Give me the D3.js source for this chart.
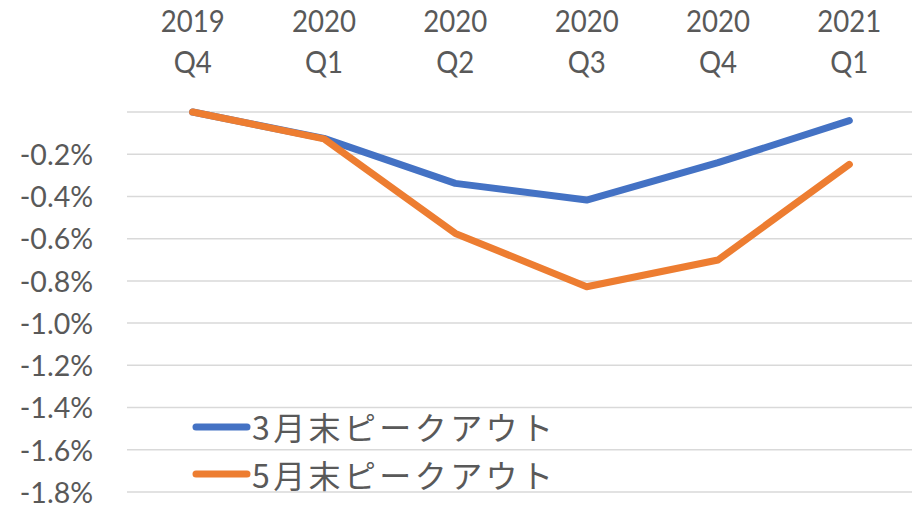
<!DOCTYPE html>
<html>
<head>
<meta charset="utf-8">
<script src="https://cdn.jsdelivr.net/npm/d3@7"></script>
<style>
  html, body { margin: 0; padding: 0; background: #fff; }
  svg { display: block; }
  text { fill: #595959; }
</style>
</head>
<body>
<svg id="chart" width="912" height="508"></svg>
<script>
const categoriesTop = ["2019", "2020", "2020", "2020", "2020", "2021"];
const categoriesBottom = ["Q4", "Q1", "Q2", "Q3", "Q4", "Q1"];
const categories = ["2019 Q4", "2020 Q1", "2020 Q2", "2020 Q3", "2020 Q4", "2021 Q1"];
const seriesNames = ["3月末ピークアウト", "5月末ピークアウト"];
const seriesMarch = [0, -0.125, -0.338, -0.417, -0.240, -0.041];
const seriesMay = [0, -0.127, -0.575, -0.828, -0.701, -0.248];
const yTicks = [0, -0.2, -0.4, -0.6, -0.8, -1.0, -1.2, -1.4, -1.6, -1.8];
const colors = ["#4472C4", "#ED7D31"];

const svg = d3.select("#chart");
const numFont = "Lato, 'Open Sans', sans-serif";
const jpFont = "'Noto Sans CJK JP', sans-serif";

const x = d3.scaleBand().domain(categories).range([127, 915]);
const y = d3.scaleLinear().domain([-1.8, 0]).range([492, 112]);
const cx = c => x(c) + x.bandwidth() / 2;

// gridlines
svg.append("g").selectAll("line").data(yTicks).join("line")
  .attr("x1", 127).attr("x2", 912)
  .attr("y1", d => y(d)).attr("y2", d => y(d))
  .attr("stroke", "#D9D9D9").attr("stroke-width", 1.5);

// y axis labels
const fmt = d => (d < 0 ? "-" : "") + Math.abs(d).toFixed(1) + "%";
const yAxis = d3.axisLeft(y).tickValues(yTicks.filter(d => d !== 0))
  .tickFormat(fmt).tickSize(0).tickPadding(0);
const yg = svg.append("g").attr("transform", "translate(93,0)").call(yAxis);
yg.select(".domain").remove();
yg.selectAll("text").attr("font-family", numFont).attr("font-size", 28.5)
  .style("fill", "#595959").attr("dy", null).attr("y", 10.3);

// x category labels at top
const xg = svg.append("g");
categories.forEach((c, i) => {
  [[categoriesTop[i], 32], [categoriesBottom[i], 73]].forEach(([txt, yy]) => {
    xg.append("text")
      .attr("transform", `translate(${cx(c)},${yy}) scale(0.89,1)`)
      .attr("text-anchor", "middle")
      .attr("font-family", numFont).attr("font-size", 31)
      .text(txt);
  });
});

// lines
const line = d3.line().x((d, i) => cx(categories[i])).y(d => y(d));
[seriesMarch, seriesMay].forEach((s, k) => {
  svg.append("path").datum(s).attr("d", line)
    .attr("fill", "none").attr("stroke", colors[k]).attr("stroke-width", 7)
    .attr("stroke-linejoin", "round").attr("stroke-linecap", "round");
});

// legend
const legendLineY = [427, 474];
const legendTextY = [428, 476];
seriesNames.forEach((n, k) => {
  const g = svg.append("g");
  g.append("line").attr("x1", 196).attr("x2", 247)
    .attr("y1", legendLineY[k]).attr("y2", legendLineY[k])
    .attr("stroke", colors[k]).attr("stroke-width", 7).attr("stroke-linecap", "round");
  g.append("text").attr("x", 252).attr("y", legendTextY[k]).attr("dy", "0.36em")
    .attr("font-family", jpFont).attr("font-size", 32)
    .attr("textLength", 301).attr("lengthAdjust", "spacing")
    .text(n);
});
</script>
</body>
</html>
